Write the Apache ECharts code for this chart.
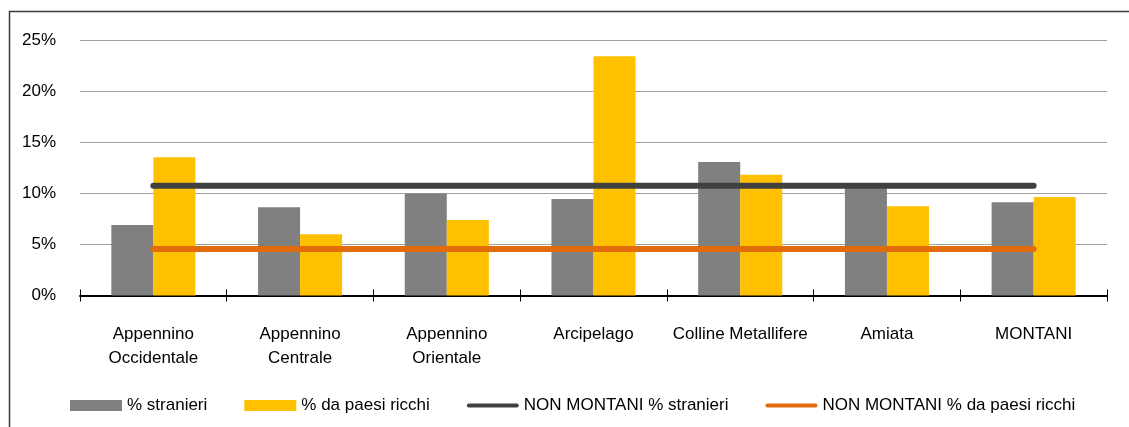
<!DOCTYPE html>
<html>
<head>
<meta charset="utf-8">
<script src="https://cdn.jsdelivr.net/npm/echarts@6/dist/echarts.min.js"></script>
<style>html,body{margin:0;padding:0;background:#fff}#c{width:1129px;height:427px}</style>
</head>
<body>
<div id="c"></div>
<script>
const categories = ['Appennino\nOccidentale', 'Appennino\nCentrale', 'Appennino\nOrientale', 'Arcipelago', 'Colline Metallifere', 'Amiata', 'MONTANI'];
const stranieri = [6.9, 8.65, 10.0, 9.45, 13.1, 10.7, 9.15];
const paesiRicchi = [13.55, 6.0, 7.4, 23.45, 11.85, 8.75, 9.65];
const nonMontaniStranieri = [10.75, 10.75, 10.75, 10.75, 10.75, 10.75, 10.75];
const nonMontaniRicchi = [4.55, 4.55, 4.55, 4.55, 4.55, 4.55, 4.55];
const yTicks = [0, 5, 10, 15, 20, 25];

const font = '"Liberation Sans", Arial, sans-serif';
const lineIcon = 'path://M2,0 L50,0 A2,2 0 0 1 50,4 L2,4 A2,2 0 0 1 2,0 Z';
const chart = echarts.init(document.getElementById('c'), null, {renderer: 'canvas'});
chart.setOption({
  animation: false,
  backgroundColor: '#fff',
  textStyle: {fontFamily: font},
  graphic: [{
    type: 'rect', silent: true,
    shape: {x: 9.5, y: 11.5, width: 1300, height: 600},
    style: {fill: 'none', stroke: '#3a3a3a', lineWidth: 1.5}
  }],
  grid: {left: 80, right: 22, top: 40.5, bottom: 131.5, containLabel: false},
  legend: {
    left: 70, top: 397, padding: 0,
    itemWidth: 52, itemHeight: 11, itemGap: 37,
    textStyle: {fontFamily: font, fontSize: 17, color: '#000'},
    data: [
      {name: '% stranieri', icon: 'rect'},
      {name: '% da paesi ricchi', icon: 'rect'},
      {name: 'NON MONTANI % stranieri', icon: lineIcon},
      {name: 'NON MONTANI % da paesi ricchi', icon: lineIcon}
    ]
  },
  xAxis: [{
    type: 'category', data: categories,
    axisLine: {lineStyle: {color: '#000', width: 2}},
    axisTick: {show: true, length: 6, lineStyle: {color: '#000', width: 1}},
    axisLabel: {fontFamily: font, fontSize: 17, color: '#000', margin: 27, lineHeight: 24, interval: 0}
  }, {
    type: 'category', data: categories, position: 'bottom',
    axisLine: {show: false},
    axisTick: {show: true, inside: true, length: 6, lineStyle: {color: '#000', width: 1}},
    axisLabel: {show: false}
  }],
  yAxis: {
    type: 'value', min: 0, max: 25, interval: 5,
    axisLine: {show: false}, axisTick: {show: false},
    splitLine: {lineStyle: {color: '#a0a0a0', width: 1}},
    axisLabel: {fontFamily: font, fontSize: 17, color: '#000', margin: 24, formatter: v => yTicks.includes(v) ? v + '%' : ''}
  },
  series: [
    {name: '% stranieri', type: 'bar', data: stranieri, barGap: '0%', barCategoryGap: '42.7%',
     itemStyle: {color: '#808080'}, z: 2},
    {name: '% da paesi ricchi', type: 'bar', data: paesiRicchi,
     itemStyle: {color: '#FFC000'}, z: 2},
    {name: 'NON MONTANI % stranieri', type: 'line', data: nonMontaniStranieri, symbol: 'none',
     lineStyle: {color: '#404040', width: 6, cap: 'round'}, itemStyle: {color: '#404040'}, z: 5},
    {name: 'NON MONTANI % da paesi ricchi', type: 'line', data: nonMontaniRicchi, symbol: 'none',
     lineStyle: {color: '#E36C0A', width: 6, cap: 'round'}, itemStyle: {color: '#E36C0A'}, z: 5}
  ]
});
</script>
</body>
</html>
